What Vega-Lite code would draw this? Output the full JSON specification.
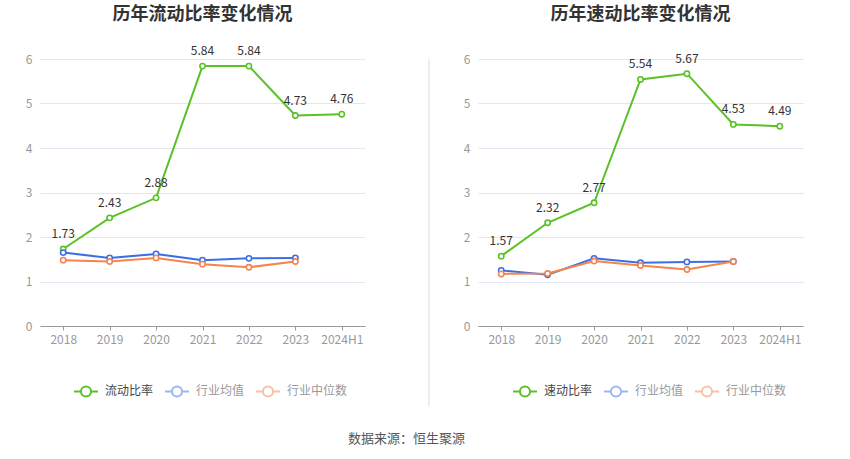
{
  "$schema": "https://vega.github.io/schema/vega-lite/v6.json",
  "background": "white",
  "padding": {"left": 10, "top": 5, "right": 5, "bottom": 4},
  "datasets": {
    "liudong": [
      {"year": "2018", "series": "流动比率", "value": 1.73},
      {"year": "2019", "series": "流动比率", "value": 2.43},
      {"year": "2020", "series": "流动比率", "value": 2.88},
      {"year": "2021", "series": "流动比率", "value": 5.84},
      {"year": "2022", "series": "流动比率", "value": 5.84},
      {"year": "2023", "series": "流动比率", "value": 4.73},
      {"year": "2024H1", "series": "流动比率", "value": 4.76},
      {"year": "2018", "series": "行业均值", "value": 1.65},
      {"year": "2019", "series": "行业均值", "value": 1.53},
      {"year": "2020", "series": "行业均值", "value": 1.62},
      {"year": "2021", "series": "行业均值", "value": 1.48},
      {"year": "2022", "series": "行业均值", "value": 1.52},
      {"year": "2023", "series": "行业均值", "value": 1.53},
      {"year": "2018", "series": "行业中位数", "value": 1.48},
      {"year": "2019", "series": "行业中位数", "value": 1.45},
      {"year": "2020", "series": "行业中位数", "value": 1.53},
      {"year": "2021", "series": "行业中位数", "value": 1.39},
      {"year": "2022", "series": "行业中位数", "value": 1.32},
      {"year": "2023", "series": "行业中位数", "value": 1.45}
    ],
    "sudong": [
      {"year": "2018", "series": "速动比率", "value": 1.57},
      {"year": "2019", "series": "速动比率", "value": 2.32},
      {"year": "2020", "series": "速动比率", "value": 2.77},
      {"year": "2021", "series": "速动比率", "value": 5.54},
      {"year": "2022", "series": "速动比率", "value": 5.67},
      {"year": "2023", "series": "速动比率", "value": 4.53},
      {"year": "2024H1", "series": "速动比率", "value": 4.49},
      {"year": "2018", "series": "行业均值", "value": 1.25},
      {"year": "2019", "series": "行业均值", "value": 1.15},
      {"year": "2020", "series": "行业均值", "value": 1.52},
      {"year": "2021", "series": "行业均值", "value": 1.42},
      {"year": "2022", "series": "行业均值", "value": 1.44},
      {"year": "2023", "series": "行业均值", "value": 1.45},
      {"year": "2018", "series": "行业中位数", "value": 1.17},
      {"year": "2019", "series": "行业中位数", "value": 1.18},
      {"year": "2020", "series": "行业中位数", "value": 1.46},
      {"year": "2021", "series": "行业中位数", "value": 1.36},
      {"year": "2022", "series": "行业中位数", "value": 1.27},
      {"year": "2023", "series": "行业中位数", "value": 1.45}
    ],
    "blank": [{"k": 1}]
  },
  "title": {
    "text": "数据来源：恒生聚源",
    "orient": "bottom",
    "anchor": "middle",
    "frame": "bounds",
    "fontSize": 13,
    "fontWeight": "normal",
    "color": "#555",
    "offset": 26
  },
  "hconcat": [
    {
      "spacing": 62,
      "resolve": {"scale": {"color": "independent"}, "legend": {"color": "independent"}},
      "hconcat": [
        {
          "title": {"text": "历年流动比率变化情况", "frame": "group", "offset": 21},
          "width": 325,
          "height": 267,
          "data": {"name": "liudong"},
          "encoding": {
            "x": {"field": "year", "type": "ordinal", "title": null, "sort": null},
            "y": {"field": "value", "type": "quantitative", "title": null, "scale": {"domain": [0, 6]}},
            "color": {
              "field": "series",
              "type": "nominal",
              "title": null,
              "scale": {"domain": ["流动比率", "行业均值", "行业中位数"], "range": ["#5ac127", "#3b6fe5", "#f5844e"]},
              "legend": {
                "legendX": 33,
                "legendY": 319,
                "encode": {
                  "symbols": {"update": {"opacity": {"signal": "datum.value === '流动比率' ? 1 : 0.5"}}},
                  "labels": {"update": {"fill": {"signal": "datum.value === '流动比率' ? '#444' : '#999'"}}}
                }
              }
            }
          },
          "layer": [
            {"mark": {"type": "line", "strokeWidth": 2, "point": {"filled": false, "fill": "white", "size": 28, "strokeWidth": 1.6}}},
            {
              "transform": [{"filter": "datum.series === '流动比率'"}],
              "mark": {"type": "text", "dy": -15, "fontSize": 12, "color": "#333"},
              "encoding": {"text": {"field": "value", "type": "quantitative", "format": ".2f"}, "color": {"value": "#333"}}
            }
          ]
        },
        {
          "width": 1,
          "height": 347,
          "data": {"name": "blank"},
          "view": {"stroke": "#eeeeee", "strokeWidth": 1},
          "mark": {"type": "text", "text": ""},
          "encoding": {}
        }
      ]
    },
    {
      "title": {"text": "历年速动比率变化情况", "frame": "group", "offset": 29},
      "width": 325,
      "height": 267,
      "data": {"name": "sudong"},
      "encoding": {
        "x": {"field": "year", "type": "ordinal", "title": null, "sort": null},
        "y": {"field": "value", "type": "quantitative", "title": null, "scale": {"domain": [0, 6]}},
        "color": {
          "field": "series",
          "type": "nominal",
          "title": null,
          "scale": {"domain": ["速动比率", "行业均值", "行业中位数"], "range": ["#5ac127", "#3b6fe5", "#f5844e"]},
          "legend": {
            "legendX": 34,
            "legendY": 319,
            "encode": {
              "symbols": {"update": {"opacity": {"signal": "datum.value === '速动比率' ? 1 : 0.5"}}},
              "labels": {"update": {"fill": {"signal": "datum.value === '速动比率' ? '#444' : '#999'"}}}
            }
          }
        }
      },
      "layer": [
        {"mark": {"type": "line", "strokeWidth": 2, "point": {"filled": false, "fill": "white", "size": 28, "strokeWidth": 1.6}}},
        {
          "transform": [{"filter": "datum.series === '速动比率'"}],
          "mark": {"type": "text", "dy": -15, "fontSize": 12, "color": "#333"},
          "encoding": {"text": {"field": "value", "type": "quantitative", "format": ".2f"}, "color": {"value": "#333"}}
        }
      ]
    }
  ],
  "spacing": 18,
  "resolve": {"scale": {"color": "independent"}, "legend": {"color": "independent"}},
  "config": {
    "font": "Noto Sans CJK SC",
    "view": {"stroke": null},
    "title": {"fontSize": 18, "fontWeight": "bold", "color": "#333", "anchor": "middle"},
    "scale": {"pointPadding": 0.5},
    "axisX": {
      "labelAngle": 0,
      "labelColor": "#999",
      "labelFontSize": 12,
      "labelPadding": 4,
      "domainColor": "#999",
      "tickColor": "#999",
      "tickSize": 4,
      "grid": false
    },
    "axisY": {
      "labelColor": "#999",
      "labelFontSize": 12,
      "labelPadding": 8,
      "domain": false,
      "ticks": false,
      "tickCount": 6,
      "gridColor": "#e3e6f0",
      "minExtent": 30,
      "maxExtent": 30
    },
    "legend": {
      "orient": "none",
      "direction": "horizontal",
      "labelFontSize": 12,
      "labelOffset": 6,
      "columnPadding": 7,
      "symbolType": "M-1,0H-0.42M0.42,0H1M-0.42,0A0.42,0.42 0 1,1 0.42,0A0.42,0.42 0 1,1 -0.42,0",
      "symbolSize": 576,
      "symbolStrokeWidth": 2,
      "symbolFillColor": "white"
    }
  }
}
